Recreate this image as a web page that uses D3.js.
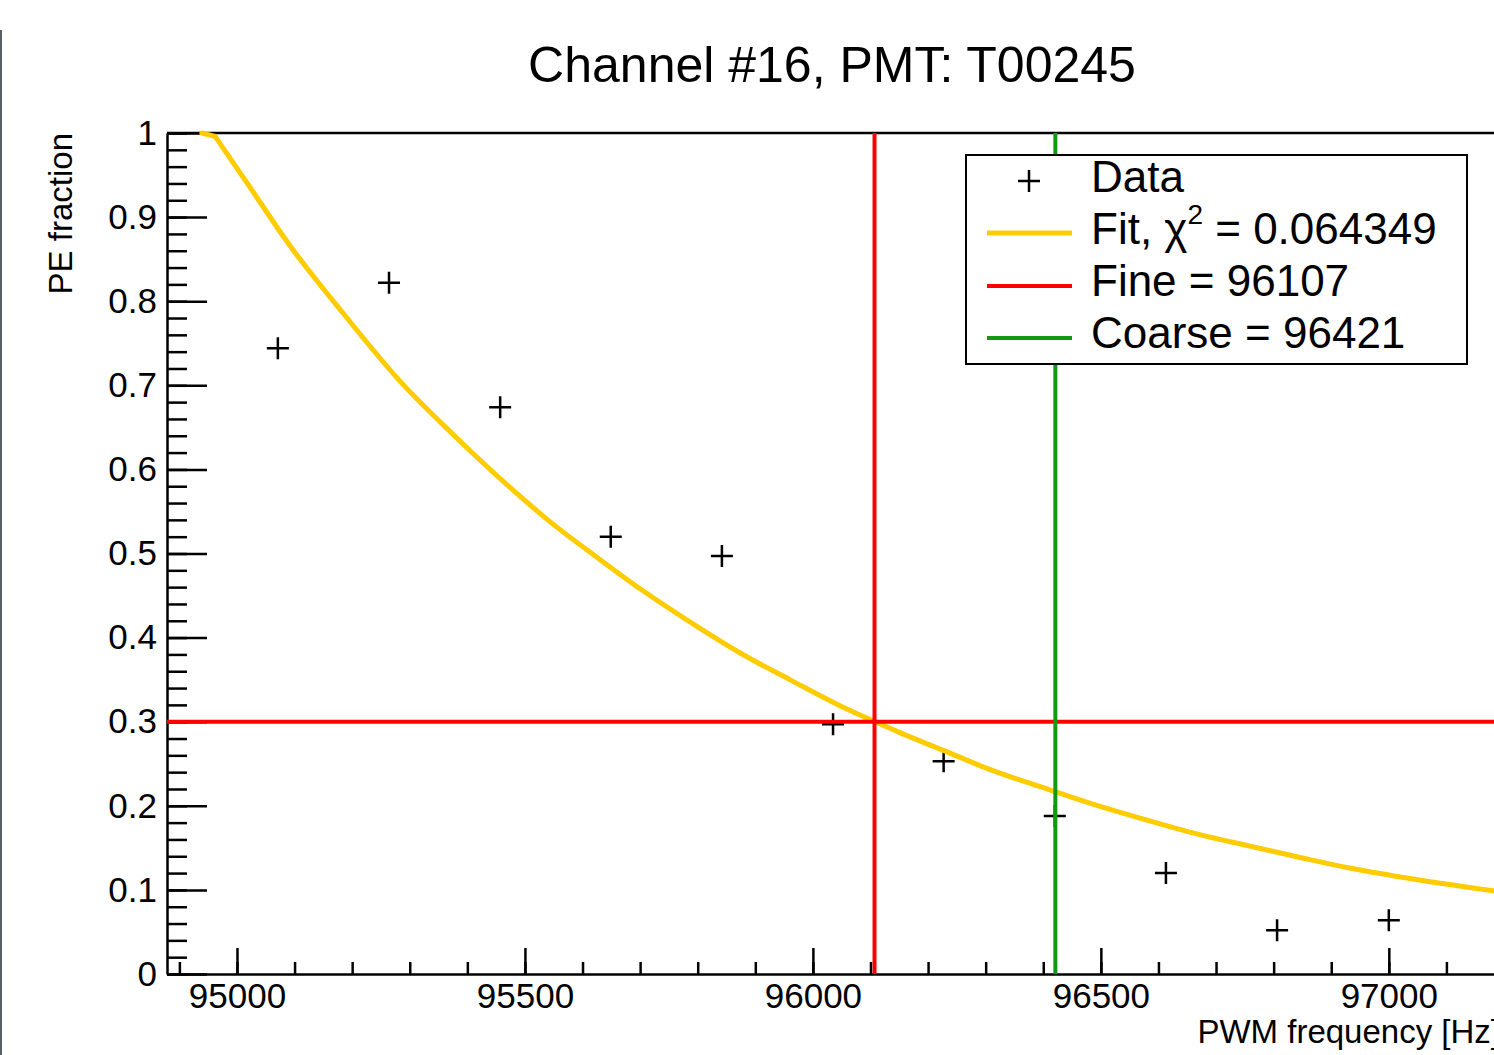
<!DOCTYPE html>
<html>
<head>
<meta charset="utf-8">
<script src="https://cdn.jsdelivr.net/npm/d3@7"></script>
<style>
  body { margin: 0; background: #fff; }
  svg { display: block; font-family: "Liberation Sans", Arial, Helvetica, sans-serif; }
</style>
</head>
<body>
<div id="chart"></div>
<script>
'use strict';

// measured points (frequency in Hz, PE fraction)
const dataFreq = [95071, 95264, 95457, 95649, 95842, 96035, 96227, 96420, 96613, 96806, 97000];
const dataFrac = [0.744, 0.822, 0.674, 0.520, 0.497, 0.297, 0.253, 0.188, 0.120, 0.052, 0.064];

// fit curve
const fitFreq = [94939, 94962, 95023, 95092, 95184, 95283, 95370, 95457, 95545, 95630, 95700, 95804, 95873, 95960, 96047, 96108, 96151, 96230, 96300, 96411, 96500, 96585, 96670, 96759, 96850, 96932, 97050, 97181, 97260];
const fitFrac = [1.000, 0.996, 0.935, 0.866, 0.786, 0.705, 0.645, 0.589, 0.537, 0.493, 0.458, 0.411, 0.382, 0.350, 0.319, 0.300, 0.287, 0.265, 0.245, 0.219, 0.199, 0.182, 0.166, 0.152, 0.138, 0.126, 0.112, 0.099, 0.092];

const fineFreq = 96107;
const coarseFreq = 96421;
const threshold = 0.3;
const chi2Text = '0.064349';

const xMajorTicks = [95000, 95500, 96000, 96500, 97000];
const yMajorTicks = [0, 0.1, 0.2, 0.3, 0.4, 0.5, 0.6, 0.7, 0.8, 0.9, 1];

const title = 'Channel #16, PMT: T00245';
const xTitle = 'PWM frequency [Hz]';
const yTitle = 'PE fraction';


const config = {
    width: 1494,
    height: 1055,
    left: 167,
    top: 133,
    bottom: 974,
    right: 1504,
    xMin: 94878.5,
    xMax: 97200,
    tickFont: '35px',
    titleFont: '33px',
    yellow: '#ffcc00',
    red: '#ff0000',
    green: '#119911'
};

const svg = d3.select('#chart').append('svg')
    .attr('width', config.width)
    .attr('height', config.height);

svg.append('rect').attr('width', config.width).attr('height', config.height).attr('fill', '#fff');

// thin dark strip on the left border of the screenshot
svg.append('rect').attr('x', 0).attr('y', 30).attr('width', 2).attr('height', config.height - 30).attr('fill', '#5a5f63');

const x = d3.scaleLinear().domain([config.xMin, config.xMax]).range([config.left, config.right]);
const y = d3.scaleLinear().domain([0, 1]).range([config.bottom, config.top]);

// title
svg.append('text')
    .attr('x', 832).attr('y', 82)
    .attr('text-anchor', 'middle')
    .attr('font-size', '50px')
    .text(title);

// frame top line
svg.append('line')
    .attr('x1', config.left).attr('x2', config.right)
    .attr('y1', config.top).attr('y2', config.top)
    .attr('stroke', '#000').attr('stroke-width', 2.5);

// y axis, minor then major
const yMinor = d3.range(0, 1.0001, 0.02);
svg.append('g')
    .attr('transform', 'translate(' + config.left + ',0)')
    .call(d3.axisLeft(y).tickValues(yMinor).tickSize(-20).tickSizeOuter(0).tickFormat(''))
    .call(function(g) { g.select('.domain').remove(); g.selectAll('line').attr('stroke-width', 2.5); });

svg.append('g')
    .attr('class', 'y-axis')
    .attr('transform', 'translate(' + config.left + ',0)')
    .call(d3.axisLeft(y).tickValues(yMajorTicks).tickSize(-40).tickSizeOuter(0).tickPadding(10).tickFormat(d3.format('~g')))
    .call(function(g) {
        g.select('.domain').attr('stroke-width', 2.5);
        g.selectAll('line').attr('stroke-width', 2.5);
        g.selectAll('text').attr('font-size', config.tickFont).attr('font-family', null).attr('fill', '#000');
    });

// x axis, minor then major
const xMinor = d3.range(94900, 97201, 100);
svg.append('g')
    .attr('transform', 'translate(0,' + config.bottom + ')')
    .call(d3.axisBottom(x).tickValues(xMinor).tickSize(-12).tickSizeOuter(0).tickFormat(''))
    .call(function(g) { g.select('.domain').remove(); g.selectAll('line').attr('stroke-width', 2.5); });

svg.append('g')
    .attr('class', 'x-axis')
    .attr('transform', 'translate(0,' + config.bottom + ')')
    .call(d3.axisBottom(x).tickValues(xMajorTicks).tickSize(-26).tickSizeOuter(0).tickPadding(9).tickFormat(d3.format('d')))
    .call(function(g) {
        g.select('.domain').attr('stroke-width', 2.5);
        g.selectAll('line').attr('stroke-width', 2.5);
        g.selectAll('text').attr('font-size', config.tickFont).attr('font-family', null).attr('fill', '#000');
    });

// axis titles
svg.append('text')
    .attr('transform', 'translate(72,' + config.top + ') rotate(-90)')
    .attr('text-anchor', 'end')
    .attr('font-size', config.titleFont)
    .text(yTitle);

svg.append('text')
    .attr('x', 1500).attr('y', 1043)
    .attr('text-anchor', 'end')
    .attr('font-size', config.titleFont)
    .text(xTitle);

// data crosses
const points = dataFreq.map(function(f, i) { return { f: f, v: dataFrac[i] }; });
const arm = 11;

const marks = svg.append('g').attr('class', 'data')
    .selectAll('g')
    .data(points)
    .enter()
    .append('g')
    .attr('transform', function(d) { return 'translate(' + x(d.f) + ',' + y(d.v) + ')'; });

marks.append('path')
    .attr('d', 'M' + (-arm) + ',0H' + arm + 'M0,' + (-arm) + 'V' + arm)
    .attr('stroke', '#000')
    .attr('stroke-width', 2.5)
    .attr('fill', 'none');

// fit curve: short clipped head as a straight piece, rest smooth
const fitPoints = fitFreq.map(function(f, i) { return [f, fitFrac[i]]; });
const fitLine = d3.line().x(function(d) { return x(d[0]); }).y(function(d) { return y(d[1]); });

svg.append('path')
    .datum(fitPoints.slice(0, 2))
    .attr('d', fitLine)
    .attr('fill', 'none')
    .attr('stroke', config.yellow)
    .attr('stroke-width', 5)
    .attr('stroke-linecap', 'round');

svg.append('path')
    .datum(fitPoints.slice(1))
    .attr('d', fitLine.curve(d3.curveMonotoneX))
    .attr('fill', 'none')
    .attr('stroke', config.yellow)
    .attr('stroke-width', 5)
    .attr('stroke-linecap', 'round');

// fine (red) and coarse (green) markers
svg.append('line')
    .attr('x1', config.left).attr('x2', config.right)
    .attr('y1', y(threshold)).attr('y2', y(threshold))
    .attr('stroke', config.red).attr('stroke-width', 4);

svg.append('line')
    .attr('x1', x(fineFreq)).attr('x2', x(fineFreq))
    .attr('y1', y(1)).attr('y2', y(0))
    .attr('stroke', config.red).attr('stroke-width', 4);

svg.append('line')
    .attr('x1', x(coarseFreq)).attr('x2', x(coarseFreq))
    .attr('y1', y(1)).attr('y2', y(0))
    .attr('stroke', config.green).attr('stroke-width', 4);

// legend
const legend = svg.append('g').attr('class', 'legend');

legend.append('rect')
    .attr('x', 966).attr('y', 155)
    .attr('width', 501).attr('height', 209)
    .attr('fill', '#fff')
    .attr('stroke', '#000')
    .attr('stroke-width', 2);

legend.append('path')
    .attr('d', 'M1018,181H1040M1029,170V192')
    .attr('stroke', '#000').attr('stroke-width', 2.5);

const legendLines = [
    { y: 233, color: config.yellow, w: 5 },
    { y: 286, color: config.red, w: 4 },
    { y: 338, color: config.green, w: 4 }
];

legend.selectAll('.legend-line')
    .data(legendLines)
    .enter()
    .append('line')
    .attr('class', 'legend-line')
    .attr('x1', 987).attr('x2', 1072)
    .attr('y1', function(d) { return d.y; }).attr('y2', function(d) { return d.y; })
    .attr('stroke', function(d) { return d.color; })
    .attr('stroke-width', function(d) { return d.w; });

legend.append('text').attr('x', 1091).attr('y', 192).attr('font-size', '44px').text('Data');

const fitLabel = legend.append('text').attr('x', 1091).attr('y', 244).attr('font-size', '44px');
fitLabel.append('tspan').text('Fit, \u03C7');
fitLabel.append('tspan').attr('dy', -20).attr('font-size', '28px').text('2');
fitLabel.append('tspan').attr('dy', 20).text(' = ' + chi2Text);

legend.append('text').attr('x', 1091).attr('y', 296).attr('font-size', '44px').text('Fine = ' + fineFreq);
legend.append('text').attr('x', 1091).attr('y', 348).attr('font-size', '44px').text('Coarse = ' + coarseFreq);
</script>
</body>
</html>
